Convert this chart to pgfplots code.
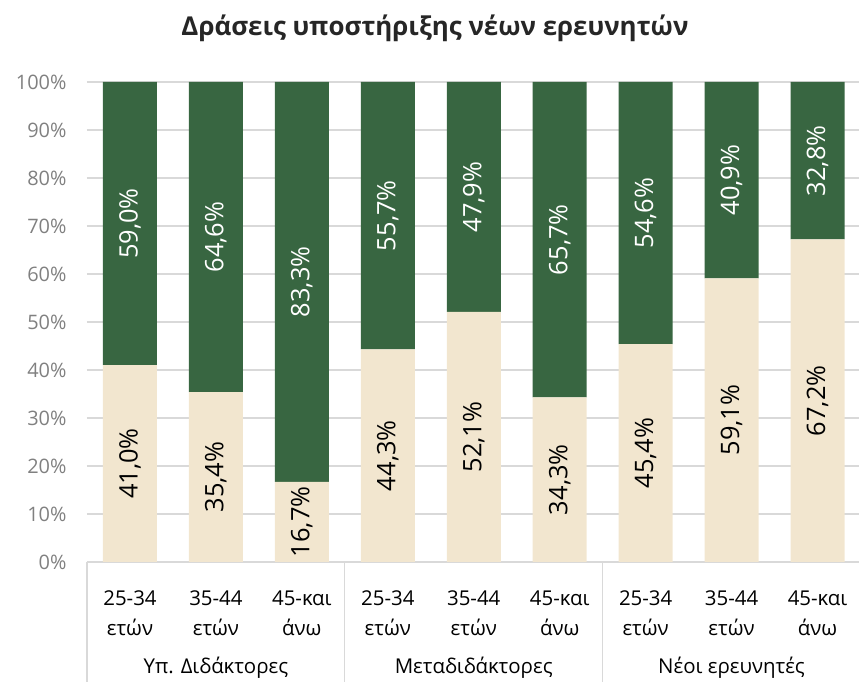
\documentclass[border=0pt]{standalone}
\usepackage{pgfplots}
\pgfplotsset{compat=1.18}
\usepackage{fontspec}
\setmainfont{Open Sans}
\definecolor{dgreen}{RGB}{56,102,65}
\definecolor{beige}{RGB}{242,230,207}
\definecolor{gridc}{RGB}{217,217,217}
\definecolor{tickc}{RGB}{128,128,128}
\definecolor{titlec}{RGB}{38,38,38}
\begin{document}
\begin{tikzpicture}[x=1bp,y=1bp]
\path[use as bounding box] (-87,-120) rectangle (772,562);
\begin{axis}[
  at={(0,0)}, anchor=south west,
  scale only axis, width=773.5bp, height=480bp,
  xmin=-0.5, xmax=8.5, ymin=0, ymax=100,
  ybar stacked, bar width=54bp,
  axis line style={draw=none},
  ymajorgrids, grid style={gridc, line width=1.3bp},
  major tick length=0pt,
  ytick={0,10,...,100},
  yticklabel={\pgfmathprintnumber{\tick}\%},
  /pgf/number format/assume math mode=true,
  yticklabel style={font=\fontsize{20}{24}\selectfont, text=tickc, xshift=-17bp},
  xtick={0,...,8},
  xticklabels={{25-34\\ετών},{35-44\\ετών},{45-και\\άνω},{25-34\\ετών},{35-44\\ετών},{45-και\\άνω},{25-34\\ετών},{35-44\\ετών},{45-και\\άνω}},
  xticklabel style={align=center, font=\fontsize{20.5}{30}\selectfont, yshift=-25bp},
  clip=false,
]
\addplot[fill=beige, draw=none] coordinates {(0,41.0) (1,35.4) (2,16.7) (3,44.3) (4,52.1) (5,34.3) (6,45.4) (7,59.1) (8,67.2)};
\addplot[fill=dgreen, draw=none] coordinates {(0,59.0) (1,64.6) (2,83.3) (3,55.7) (4,47.9) (5,65.7) (6,54.6) (7,40.9) (8,32.8)};
\end{axis}
\begin{axis}[
  at={(0,0)}, anchor=south west,
  scale only axis, width=773.5bp, height=480bp,
  xmin=-0.5, xmax=8.5, ymin=0, ymax=100,
  hide axis, clip=false,
  /pgf/number format/assume math mode=true,
  nodes near coords={\pgfmathprintnumber[fixed,fixed zerofill,precision=1,use comma,assume math mode=true]{\pgfplotspointmeta}\%},
  point meta=explicit,
  every node near coord/.append style={rotate=90, anchor=center, font=\fontsize{25.5}{30}\selectfont},
]
\addplot[draw=none, mark=none, nodes near coords style={text=black}] coordinates {
  (0,20.5)[41.0] (1,17.7)[35.4] (2,8.35)[16.7] (3,22.15)[44.3] (4,26.05)[52.1] (5,17.15)[34.3] (6,22.7)[45.4] (7,29.55)[59.1] (8,33.6)[67.2]};
\addplot[draw=none, mark=none, nodes near coords style={text=white}] coordinates {
  (0,70.5)[59.0] (1,67.7)[64.6] (2,58.35)[83.3] (3,72.15)[55.7] (4,76.05)[47.9] (5,67.15)[65.7] (6,72.7)[54.6] (7,79.55)[40.9] (8,83.6)[32.8]};
\end{axis}
\draw[gridc, line width=1.3bp] (0,0) -- (0,-120);
\draw[gridc, line width=1.3bp] (257.8,0) -- (257.8,-120);
\draw[gridc, line width=1.3bp] (515.6,0) -- (515.6,-120);
\node[font=\fontsize{20.5}{24}\selectfont] at (128.9,-106) {Υπ. Διδάκτορες};
\node[font=\fontsize{20.5}{24}\selectfont] at (386.7,-106) {Μεταδιδάκτορες};
\node[font=\fontsize{20.5}{24}\selectfont] at (644.5,-106) {Νέοι ερευνητές};
\node[font=\bfseries\fontsize{26}{30}\selectfont, text=titlec] at (348,534) {Δράσεις υποστήριξης νέων ερευνητών};
\end{tikzpicture}
\end{document}
